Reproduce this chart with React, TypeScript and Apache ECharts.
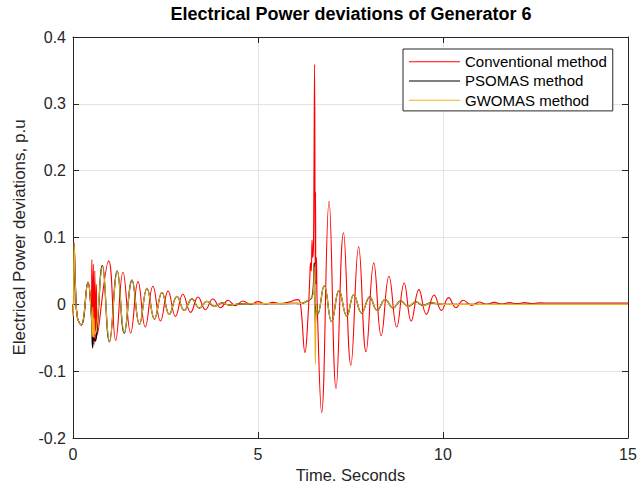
import React, { useEffect, useRef } from "react";
import * as echarts from "echarts";

const chartTitle = "Electrical Power deviations of Generator 6";
const xAxisName = "Time. Seconds";
const yAxisName = "Electrical Power deviations, p.u";
const xTickLabels = ["0", "5", "10", "15"];
const yTickLabels = ["-0.2", "-0.1", "0", "0.1", "0.2", "0.3", "0.4"];
const legendNames = ["Conventional method", "PSOMAS method", "GWOMAS method"];

// Conventional method [time s, deviation p.u]
const conventional: [number, number][] = [
  [0, 0], [0.01, -0.018], [0.03, 0.092], [0.07, 0.02], [0.12, -0.02], [0.224, -0.031],
  [0.405, 0.033], [0.49, -0.01], [0.51, 0.067], [0.53, -0.066], [0.55, 0.06], [0.57, -0.06],
  [0.59, 0.05], [0.61, -0.055], [0.63, 0.03], [0.66, -0.045],
  [0.965, 0.065], [1.154, -0.054], [1.351, 0.048], [1.559, -0.043], [1.757, 0.034],
  [1.954, -0.034], [2.16, 0.027], [2.365, -0.025], [2.57, 0.02], [2.77, -0.018],
  [2.97, 0.015], [3.18, -0.012], [3.38, 0.011], [3.58, -0.008], [3.78, 0.008],
  [3.99, -0.005], [4.19, 0.006], [4.39, -0.002], [4.59, 0.005], [4.8, 0.0],
  [5.0, 0.004], [5.2, 0.0005], [5.41, 0.003], [5.61, 0.001], [5.81, 0.003],
  [6.08, 0.007], [6.15, 0.0], [6.27, -0.072], [6.35, -0.02], [6.4, 0.04], [6.42, 0.062],
  [6.44, 0.05], [6.46, 0.096], [6.48, 0.07], [6.5, 0.09], [6.53, 0.359], [6.545, 0.06],
  [6.555, 0.168], [6.565, 0.03], [6.58, 0.07], [6.6, 0.0],
  [6.72, -0.162], [6.92, 0.154], [7.11, -0.126], [7.31, 0.107], [7.51, -0.091],
  [7.72, 0.086], [7.92, -0.071], [8.13, 0.062], [8.33, -0.047], [8.54, 0.042],
  [8.75, -0.034], [8.95, 0.032], [9.14, -0.025], [9.35, 0.022], [9.55, -0.015],
  [9.76, 0.014], [9.96, -0.009], [10.15, 0.01], [10.35, -0.005], [10.55, 0.006],
  [10.77, -0.0015], [10.98, 0.0035], [11.18, 0.0], [11.39, 0.003], [11.59, 0.0005],
  [11.8, 0.0025], [12.0, 0.001], [12.2, 0.0025], [12.4, 0.0012], [12.6, 0.0022],
  [13.0, 0.002], [14.0, 0.002], [15.0, 0.002],
];

// PSOMAS method
const psomas: [number, number][] = [
  [0, 0], [0.01, -0.018], [0.03, 0.09], [0.07, 0.02], [0.12, -0.02], [0.224, -0.031],
  [0.405, 0.033], [0.5, -0.02], [0.53, -0.064], [0.56, -0.05], [0.6, -0.055], [0.64, -0.045],
  [0.797, 0.058], [0.986, -0.056], [1.197, 0.05], [1.386, -0.043], [1.595, 0.036],
  [1.797, -0.03], [2.0, 0.024], [2.203, -0.022], [2.405, 0.018], [2.603, -0.015],
  [2.81, 0.012], [3.008, -0.009], [3.216, 0.008], [3.414, -0.0055], [3.62, 0.0045],
  [3.82, -0.003], [4.03, 0.002], [4.22, -0.001], [4.5, 0.0005], [5.0, 0.001],
  [5.5, 0.001], [6.0, 0.0015], [6.14, 0.001], [6.3, 0.004], [6.46, 0.011], [6.5, 0.03],
  [6.52, 0.062], [6.55, -0.03], [6.58, 0.0], [6.62, -0.014],
  [6.79, 0.028], [6.99, -0.026], [7.19, 0.021], [7.4, -0.018], [7.59, 0.0145],
  [7.8, -0.013], [8.02, 0.011], [8.22, -0.009], [8.44, 0.0075], [8.65, -0.0055],
  [8.86, 0.005], [9.06, -0.003], [9.27, 0.0035], [9.47, -0.0015], [9.67, 0.002],
  [10.0, 0.0], [12.0, 0.0], [15.0, 0.0],
];

// GWOMAS method
const gwomas: [number, number][] = [
  [0, 0], [0.01, -0.018], [0.03, 0.092], [0.07, 0.02], [0.12, -0.02], [0.224, -0.031],
  [0.405, 0.033], [0.5, -0.02], [0.52, -0.048], [0.535, -0.004], [0.55, -0.049],
  [0.57, -0.02], [0.59, -0.045], [0.64, -0.035],
  [0.797, 0.057], [0.986, -0.056], [1.197, 0.05], [1.386, -0.042], [1.595, 0.036],
  [1.797, -0.03], [2.0, 0.024], [2.203, -0.022], [2.405, 0.018], [2.603, -0.015],
  [2.81, 0.012], [3.008, -0.009], [3.216, 0.008], [3.414, -0.0055], [3.62, 0.0045],
  [3.82, -0.003], [4.03, 0.002], [4.22, -0.001], [4.5, 0.0005], [5.0, 0.001],
  [5.5, 0.001], [6.0, 0.0015], [6.14, 0.001], [6.3, 0.004], [6.46, 0.011], [6.5, 0.02],
  [6.52, 0.056], [6.55, -0.09], [6.58, 0.0], [6.62, -0.014],
  [6.79, 0.028], [6.99, -0.026], [7.19, 0.021], [7.4, -0.018], [7.59, 0.0145],
  [7.8, -0.013], [8.02, 0.011], [8.22, -0.009], [8.44, 0.0075], [8.65, -0.0055],
  [8.86, 0.005], [9.06, -0.003], [9.27, 0.0035], [9.47, -0.0015], [9.67, 0.002],
  [10.0, 0.0], [12.0, 0.0], [15.0, 0.0],
];

const xMin = 0, xMax = 15, xStep = 5;
const yMin = -0.2, yMax = 0.4, yStep = 0.1;

const FONT = "'Liberation Sans', Arial, Helvetica, sans-serif";
const INK = "#262626";
const GRIDC = "#e3e3e3";

export default function App() {
  const ref = useRef<HTMLDivElement>(null);
  useEffect(() => {
    document.body.style.margin = "0";
    if (!ref.current) return;
    const chart = echarts.init(ref.current, undefined, { renderer: "svg" });
    const colors = ["#ff0000", "#000000", "#edb120"];
    const datasets = [conventional, psomas, gwomas];
    const tickCommon = { show: true, inside: true, length: 6, lineStyle: { color: INK, width: 1 } };
    const lineCommon = { show: true, onZero: false, lineStyle: { color: INK, width: 1 } };
    chart.setOption({
      animation: false,
      backgroundColor: "#ffffff",
      textStyle: { fontFamily: FONT },
      grid: { left: 73, right: 10, top: 37, bottom: 46, containLabel: false, outerBoundsMode: "none" },
      graphic: [
        {
          type: "text",
          x: 351,
          y: 5,
          style: {
            text: chartTitle,
            textAlign: "center",
            textVerticalAlign: "top",
            font: `bold 18px ${FONT}`,
            fill: "#000000",
          },
        },
      ],
      legend: {
        orient: "vertical",
        left: 403,
        top: 49,
        padding: [3, 6, 1, 6],
        icon: "rect",
        itemWidth: 51,
        itemHeight: 1,
        itemGap: 0,
        borderColor: INK,
        borderWidth: 1,
        borderRadius: 0,
        backgroundColor: "#ffffff",
        textStyle: { fontSize: 15, color: "#000000", fontFamily: FONT, lineHeight: 19.3 },
        data: legendNames,
      },
      xAxis: [
        {
          type: "value", min: xMin, max: xMax, interval: xStep, position: "bottom",
          name: xAxisName, nameLocation: "middle", nameGap: 27,
          nameTextStyle: { fontSize: 16.5, color: INK, fontFamily: FONT },
          axisLine: lineCommon, axisTick: tickCommon,
          axisLabel: {
            fontSize: 16, color: INK, margin: 8, fontFamily: FONT,
            formatter: (v: number) => xTickLabels[Math.round((v - xMin) / xStep)] ?? "",
          },
          splitLine: { show: true, lineStyle: { color: GRIDC, width: 1 } },
        },
        {
          type: "value", min: xMin, max: xMax, interval: xStep, position: "top",
          axisLine: lineCommon, axisTick: tickCommon, axisLabel: { show: false }, splitLine: { show: false },
        },
      ],
      yAxis: [
        {
          type: "value", min: yMin, max: yMax, interval: yStep, position: "left",
          name: yAxisName, nameLocation: "middle", nameGap: 42, nameRotate: 90,
          nameTextStyle: { fontSize: 17, color: INK, fontFamily: FONT },
          axisLine: lineCommon, axisTick: tickCommon,
          axisLabel: {
            fontSize: 16, color: INK, margin: 7, fontFamily: FONT,
            formatter: (v: number) => yTickLabels[Math.round((v - yMin) / yStep)] ?? "",
          },
          splitLine: { show: true, lineStyle: { color: GRIDC, width: 1 } },
        },
        {
          type: "value", min: yMin, max: yMax, interval: yStep, position: "right",
          axisLine: lineCommon, axisTick: tickCommon, axisLabel: { show: false }, splitLine: { show: false },
        },
      ],
      series: datasets.map((d, i) => ({
        name: legendNames[i],
        type: "line",
        xAxisIndex: 0,
        yAxisIndex: 0,
        data: d,
        symbol: "none",
        showSymbol: false,
        smooth: 0.45,
        lineStyle: { color: colors[i], width: i === 1 ? 1.3 : 1.1 },
        itemStyle: { color: colors[i] },
        z: 2 + i,
      })),
    });
    return () => chart.dispose();
  }, []);
  return <div ref={ref} style={{ width: 638, height: 484 }} />;
}
